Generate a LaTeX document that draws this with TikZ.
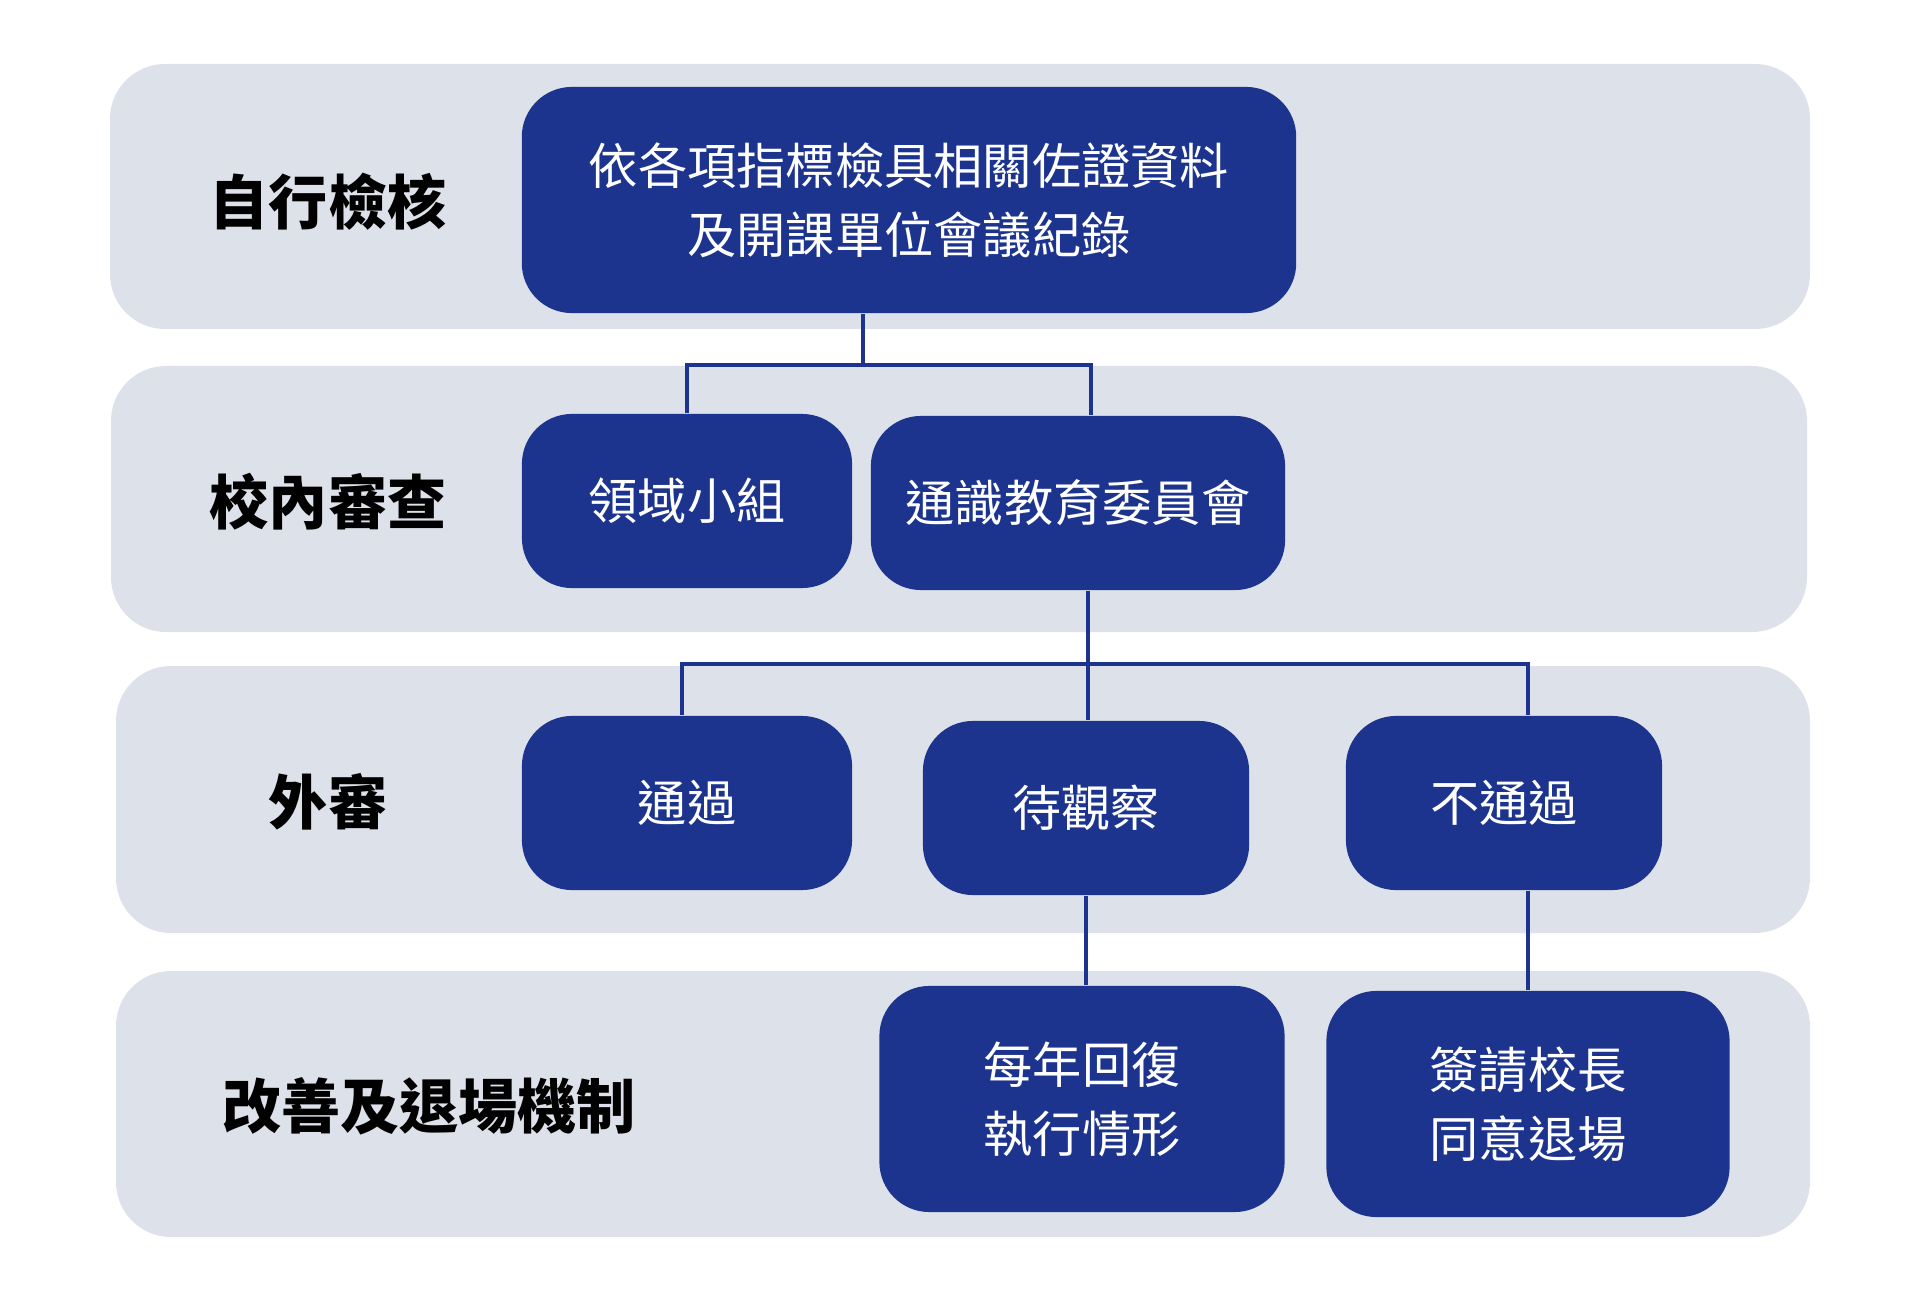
\documentclass[tikz,border=0pt]{standalone}
\usepackage{fontspec}
\usepackage{xcolor}
\usepackage{tikz}
\usetikzlibrary{
    positioning,
    arrows.meta,
    calc
}
\newfontfamily\cjk{Noto Sans CJK TC}
\definecolor{boxBlue}{RGB}{28, 52, 142}
\definecolor{bandGray}{RGB}{221, 225, 233}

\begin{document}
\begin{tikzpicture}[x=0.01cm, y=-0.01cm, >=stealth,
        band/.style={fill=bandGray, rounded corners=0.55cm},
        blk/.style={fill=boxBlue, rounded corners=0.5cm, text=white, align=center,
            font=\cjk\fontsize{14}{19.6}\selectfont, inner sep=0pt},
        lbl/.style={font=\cjk\bfseries\fontsize{16.8}{20}\selectfont, text=black},
        link/.style={draw=boxBlue, line width=1.1pt}]
        \useasboundingbox (0,0) rectangle (1920,1300);

        % 背景の帯
        \fill[band] (110,64) rectangle (1810,329);
        \fill[band] (111,366) rectangle (1807,632);
        \fill[band] (116,666) rectangle (1810,933);
        \fill[band] (116,971) rectangle (1810,1237);

        % 段の見出し
        \node[lbl] (selfLbl) at (328,202) {自行檢核};
        \node[lbl] (inLbl) at (328,502) {校內審查};
        \node[lbl] (extLbl) at (328,802) {外審};
        \node[lbl] (exitLbl) at (429,1106) {改善及退場機制};

        % ボックス
        \node[blk, minimum width=7.74cm, minimum height=2.26cm] (chk) at (909,200)
            {依各項指標檢具相關佐證資料\\及開課單位會議紀錄};
        \node[blk, minimum width=3.3cm, minimum height=1.74cm] (grp) at (687,501) {領域小組};
        \node[blk, minimum width=4.14cm, minimum height=1.74cm] (cmt) at (1078,503) {通識教育委員會};
        \node[blk, minimum width=3.3cm, minimum height=1.74cm] (pass) at (687,803) {通過};
        \node[blk, minimum width=3.26cm, minimum height=1.74cm] (watch) at (1086,808) {待觀察};
        \node[blk, minimum width=3.16cm, minimum height=1.74cm] (fail) at (1504,803) {不通過};
        \node[blk, minimum width=4.05cm, minimum height=2.26cm] (rep) at (1082,1099)
            {每年回復\\執行情形};
        \node[blk, minimum width=4.03cm, minimum height=2.26cm] (quit) at (1528,1104)
            {簽請校長\\同意退場};

        % 接続線
        \coordinate (J1) at (863,365);
        \coordinate (J2) at (1088,664);
        \coordinate (J3) at ($(cmt.north)+(13,0)$);
        \coordinate (J4) at ($(pass.north)+(-5,0)$);
        \draw[link] (chk.south -| J1) -- (J1);
        \draw[link] (grp.north) |- (J1) -| (J3);
        \draw[link] (cmt.south -| J2) -- (watch.north -| J2);
        \draw[link] (J4) |- (J2) -| (quit.north |- fail.north);
        \draw[link] (watch.south) -- (rep.north -| watch.south);
        \draw[link] (fail.south -| quit.north) -- (quit.north);
    \end{tikzpicture}
\end{document}
